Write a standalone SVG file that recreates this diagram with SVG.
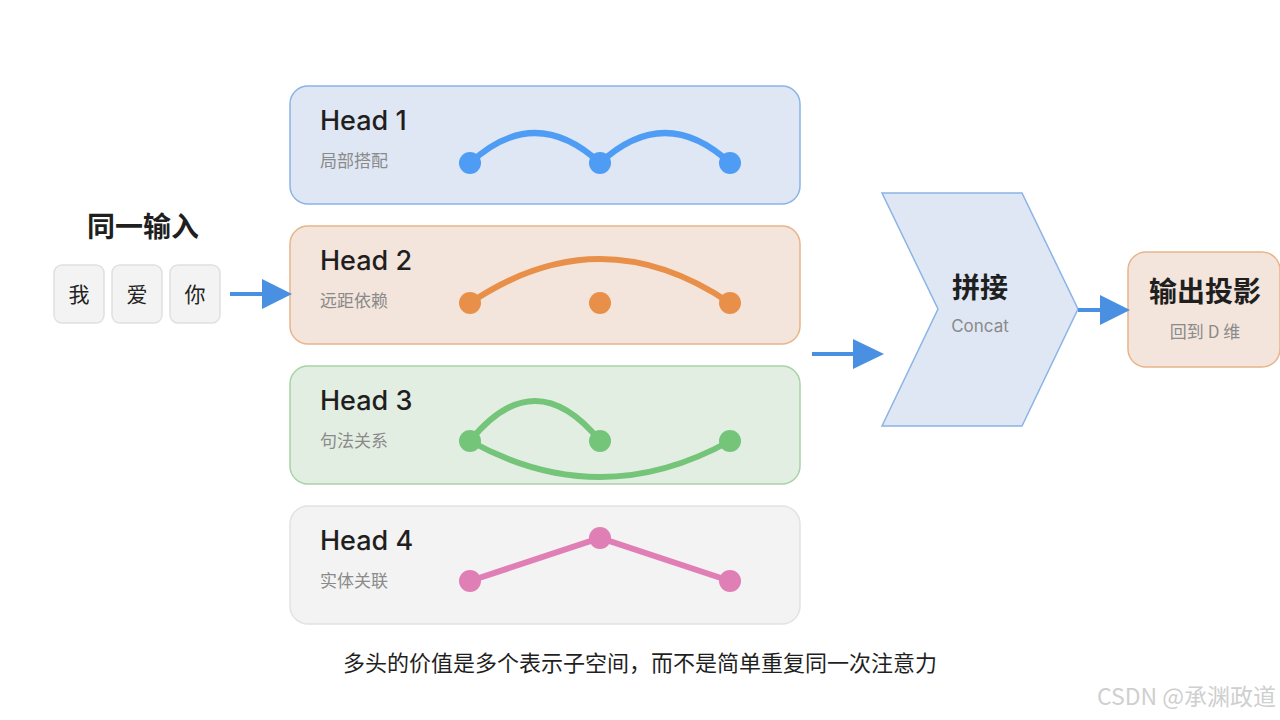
<svg xmlns="http://www.w3.org/2000/svg" width="1280" height="720" viewBox="0 0 1280 720">
<defs>
<style>
text{font-family:"Inter","Liberation Sans","Noto Sans CJK SC",sans-serif;}
.cjk{font-family:"Noto Sans CJK SC","Inter",sans-serif;}
.title{font-size:27px;font-weight:500;fill:#1f1f1f;}
.sub{font-size:17px;fill:#8a8a8a;}
.big{font-size:28px;font-weight:700;fill:#1f1f1f;text-anchor:middle;}
.tok{fill:#f3f3f3;stroke:#e0e0e0;stroke-width:1.5;}
.tokt{font-size:21px;fill:#222;text-anchor:middle;}
.arc{fill:none;stroke-width:6;stroke-linecap:round;}
.conn{stroke:#4a90e2;stroke-width:4;fill:none;}
.head{fill:#4a90e2;}
</style>
</defs>
<rect width="1280" height="720" fill="#ffffff"/>

<g id="input">
<text x="143" y="237" class="cjk big">同一输入</text>
<rect class="tok" x="54" y="265" width="50" height="58" rx="8"/>
<rect class="tok" x="112" y="265" width="50" height="58" rx="8"/>
<rect class="tok" x="170" y="265" width="50" height="58" rx="8"/>
<text x="79" y="302" class="cjk tokt">我</text>
<text x="137" y="302" class="cjk tokt">爱</text>
<text x="195" y="302" class="cjk tokt">你</text>
</g>

<g id="head1">
<rect x="290" y="86" width="510" height="118" rx="18" fill="#dfe7f4" stroke="#8ab4e6" stroke-width="1.5"/>
<text x="320" y="130" class="title">Head 1</text>
<text x="320" y="167" class="cjk sub">局部搭配</text>
<path class="arc" stroke="#4f9cf5" d="M470 163 Q535 103 600 163 Q665 103 730 163"/>
<g fill="#4f9cf5"><circle cx="470" cy="163" r="11"/><circle cx="600" cy="163" r="11"/><circle cx="730" cy="163" r="11"/></g>
</g>

<g id="head2">
<rect x="290" y="226" width="510" height="118" rx="18" fill="#f4e5dc" stroke="#e8b48a" stroke-width="1.5"/>
<text x="320" y="270" class="title">Head 2</text>
<text x="320" y="307" class="cjk sub">远距依赖</text>
<path class="arc" stroke="#e8904a" d="M470 303 Q600 215 730 303"/>
<g fill="#e8904a"><circle cx="470" cy="303" r="11"/><circle cx="600" cy="303" r="11"/><circle cx="730" cy="303" r="11"/></g>
</g>

<g id="head3">
<rect x="290" y="366" width="510" height="118" rx="18" fill="#e3eee3" stroke="#a6d4a6" stroke-width="1.5"/>
<text x="320" y="410" class="title">Head 3</text>
<text x="320" y="447" class="cjk sub">句法关系</text>
<path class="arc" stroke="#74c47a" d="M470 441 Q535 361 600 441 M470 441 Q600 513 730 441"/>
<g fill="#74c47a"><circle cx="470" cy="441" r="11"/><circle cx="600" cy="441" r="11"/><circle cx="730" cy="441" r="11"/></g>
</g>

<g id="head4">
<rect x="290" y="506" width="510" height="118" rx="18" fill="#f3f3f3" stroke="#e2e2e2" stroke-width="1.5"/>
<text x="320" y="550" class="title">Head 4</text>
<text x="320" y="587" class="cjk sub">实体关联</text>
<path class="arc" stroke="#e07fb5" d="M470 581 L600 538 L730 581"/>
<g fill="#e07fb5"><circle cx="470" cy="581" r="11"/><circle cx="600" cy="538" r="11"/><circle cx="730" cy="581" r="11"/></g>
</g>

<g id="concat">
<polygon points="882,193 1022,193 1078,309 1022,426 882,426 938,309" fill="#dfe7f4" stroke="#8ab4e6" stroke-width="1.5"/>
<text x="980" y="298" class="cjk big">拼接</text>
<text x="980" y="332" class="sub" text-anchor="middle">Concat</text>
</g>

<g id="output">
<rect x="1128" y="252" width="152" height="115" rx="18" fill="#f4e5dc" stroke="#e8b48a" stroke-width="1.5"/>
<text x="1205" y="302" class="cjk big">输出投影</text>
<text x="1205" y="338" class="cjk sub" text-anchor="middle">回到 D 维</text>
</g>

<g id="connectors">
<line class="conn" x1="230" y1="294" x2="264" y2="294"/>
<polygon class="head" points="262,279 292,294 262,309"/>
<line class="conn" x1="812" y1="354" x2="856" y2="354"/>
<polygon class="head" points="853,339 884,354 853,369"/>
<line class="conn" x1="1078" y1="310" x2="1102" y2="310"/>
<polygon class="head" points="1100,295 1130,310 1100,325"/>
</g>

<text x="640" y="671" class="cjk" font-size="22" fill="#1f1f1f" text-anchor="middle">多头的价值是多个表示子空间，而不是简单重复同一次注意力</text>
<text x="1276" y="705" class="cjk" font-size="23" fill="#cfcfcf" text-anchor="end">CSDN @承渊政道</text>
</svg>
